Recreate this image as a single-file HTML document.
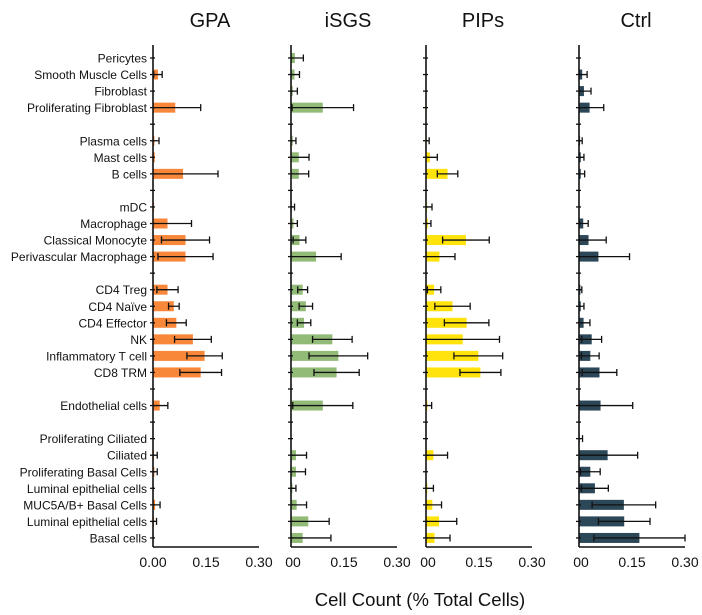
<!DOCTYPE html>
<html><head><meta charset="utf-8">
<style>
html,body{margin:0;padding:0;background:#fff;}
svg{display:block;font-family:"Liberation Sans",sans-serif;}
</style></head>
<body>
<svg id="chart" width="702" height="615" viewBox="0 0 702 615" xmlns="http://www.w3.org/2000/svg"></svg>
<script>
const categories = ["Pericytes","Smooth Muscle Cells","Fibroblast","Proliferating Fibroblast",null,"Plasma cells","Mast cells","B cells",null,"mDC","Macrophage","Classical Monocyte","Perivascular Macrophage",null,"CD4 Treg","CD4 Naïve","CD4 Effector","NK","Inflammatory T cell","CD8 TRM",null,"Endothelial cells",null,"Proliferating Ciliated","Ciliated","Proliferating Basal Cells","Luminal epithelial cells","MUC5A/B+ Basal Cells","Luminal epithelial cells","Basal cells"];
const panels = ["GPA","iSGS","PIPs","Ctrl"];
const gpaMean = [0,0.014,0,0.063,null,0.004,0.005,0.085,null,0.003,0.041,0.092,0.092,null,0.041,0.059,0.066,0.113,0.146,0.135,null,0.019,null,0,0.003,0.004,0.002,0.006,0.003,0.002];
const gpaErr  = [0,0.026,0,0.135,null,0.017,0.005,0.184,null,0.003,0.109,0.16,0.17,null,0.071,0.074,0.094,0.165,0.196,0.194,null,0.042,null,0,0.012,0.012,0.002,0.02,0.01,0.002];
const isgsMean = [0.011,0.01,0.005,0.09,null,0.005,0.022,0.022,null,0.003,0.007,0.024,0.071,null,0.033,0.042,0.037,0.117,0.134,0.129,null,0.09,null,0,0.014,0.014,0.004,0.016,0.049,0.033];
const isgsErr  = [0.035,0.024,0.018,0.177,null,0.014,0.051,0.05,null,0.01,0.018,0.042,0.142,null,0.047,0.061,0.056,0.173,0.217,0.193,null,0.175,null,0,0.044,0.041,0.014,0.044,0.108,0.113];
const pipsMean = [0,0,0,0.002,null,0.002,0.011,0.061,null,0.003,0.005,0.113,0.038,null,0.023,0.075,0.115,0.104,0.148,0.154,null,0.004,null,0,0.021,0.001,0.004,0.018,0.037,0.024];
const pipsErr  = [0,0,0,0.002,null,0.009,0.032,0.09,null,0.017,0.014,0.179,0.082,null,0.042,0.125,0.178,0.208,0.217,0.212,null,0.016,null,0,0.061,0.001,0.021,0.044,0.087,0.068];
const ctrlMean = [0,0.009,0.014,0.03,null,0.003,0.005,0.005,null,0.001,0.012,0.027,0.055,null,0.004,0.005,0.013,0.036,0.032,0.058,null,0.061,null,0.002,0.081,0.032,0.045,0.127,0.128,0.171];
const ctrlErr  = [0,0.023,0.034,0.07,null,0.009,0.014,0.016,null,0.001,0.026,0.077,0.143,null,0.008,0.014,0.031,0.064,0.057,0.107,null,0.152,null,0.01,0.166,0.06,0.083,0.217,0.201,0.30];
const xTicks = [0, 0.15, 0.30];
const tickLabelsFirst = ["0.00","0.15","0.30"];
const tickLabelsOther = ["00","0.15","0.30"];

const means=[gpaMean,isgsMean,pipsMean,ctrlMean];
const errs=[gpaErr,isgsErr,pipsErr,ctrlErr];
const colors=["#f8873a","#93bb78","#ffe30a","#2c4757"];
const axisX=[153,291,426,579];
const plotW=106, xMax=0.30;
const y0=58, step=16.55, axisTop=45, axisBottom=547;
const svg=document.getElementById('chart');
const NS="http://www.w3.org/2000/svg";
function mk(tag,attrs,parent){const e=document.createElementNS(NS,tag);for(const k in attrs)e.setAttribute(k,attrs[k]);(parent||svg).appendChild(e);return e;}
function yPos(i){return y0+i*step;}
function xScale(p,v){return axisX[p]+Math.min(v,xMax)/xMax*plotW;}

const lg=mk('g',{});


categories.forEach((c,i)=>{
  if(c===null)return;
  const t=mk('text',{x:147,y:yPos(i)+4.5,'text-anchor':'end','font-size':'12',fill:'#111'},lg);
  t.textContent=c;
  
  
});

panels.forEach((name,p)=>{
  const g=mk('g',{});
  
  
  const title=mk('text',{x:axisX[p]+plotW/2+4,y:27,'text-anchor':'middle','font-size':'20',fill:'#111'},g);
  title.textContent=name;
  
  
  categories.forEach((c,i)=>{
    if(c===null)return;
    const m=means[p][i], e=errs[p][i], y=yPos(i);
    const x0=axisX[p];
    if(m>0){
      const r=mk('rect',{x:x0,y:y-5,width:xScale(p,m)-x0,height:10,fill:colors[p]},g);
      
      
    }
    const sd=e-m;
    if(sd>0){
      const lo=Math.max(0,m-sd);
      const xl=xScale(p,lo), xr=xScale(p,e);
      const eb=mk('path',{d:`M${xl},${y}H${xr}M${xr},${y-3.5}V${y+3.5}`+(lo>0?`M${xl},${y-3.5}V${y+3.5}`:''),stroke:'#111','stroke-width':1.3,fill:'none'},g);
      
      
    }
  });
  categories.forEach((c,i)=>{
    mk('line',{x1:axisX[p]-3,x2:axisX[p]+2,y1:yPos(i),y2:yPos(i),stroke:'#111','stroke-width':1.3},g);
  });
  const ya=mk('line',{x1:axisX[p],x2:axisX[p],y1:axisTop,y2:axisBottom,stroke:'#111','stroke-width':1.6},g);
  
  
  const xa=mk('line',{x1:axisX[p],x2:axisX[p]+plotW,y1:axisBottom,y2:axisBottom,stroke:'#111','stroke-width':1.6},g);
  
  
  const labs=p===0?tickLabelsFirst:tickLabelsOther;
  xTicks.forEach((v,k)=>{
    const t=mk('text',{x:xScale(p,v)+(k===0&&p>0?2:0),y:567,'text-anchor':'middle','font-size':'14',fill:'#111'},g);
    t.textContent=labs[k];
    
    
  });
});
const xt=mk('text',{x:420,y:606,'text-anchor':'middle','font-size':'18.5',fill:'#111'});
xt.textContent="Cell Count (% Total Cells)";


</script>
</body></html>
